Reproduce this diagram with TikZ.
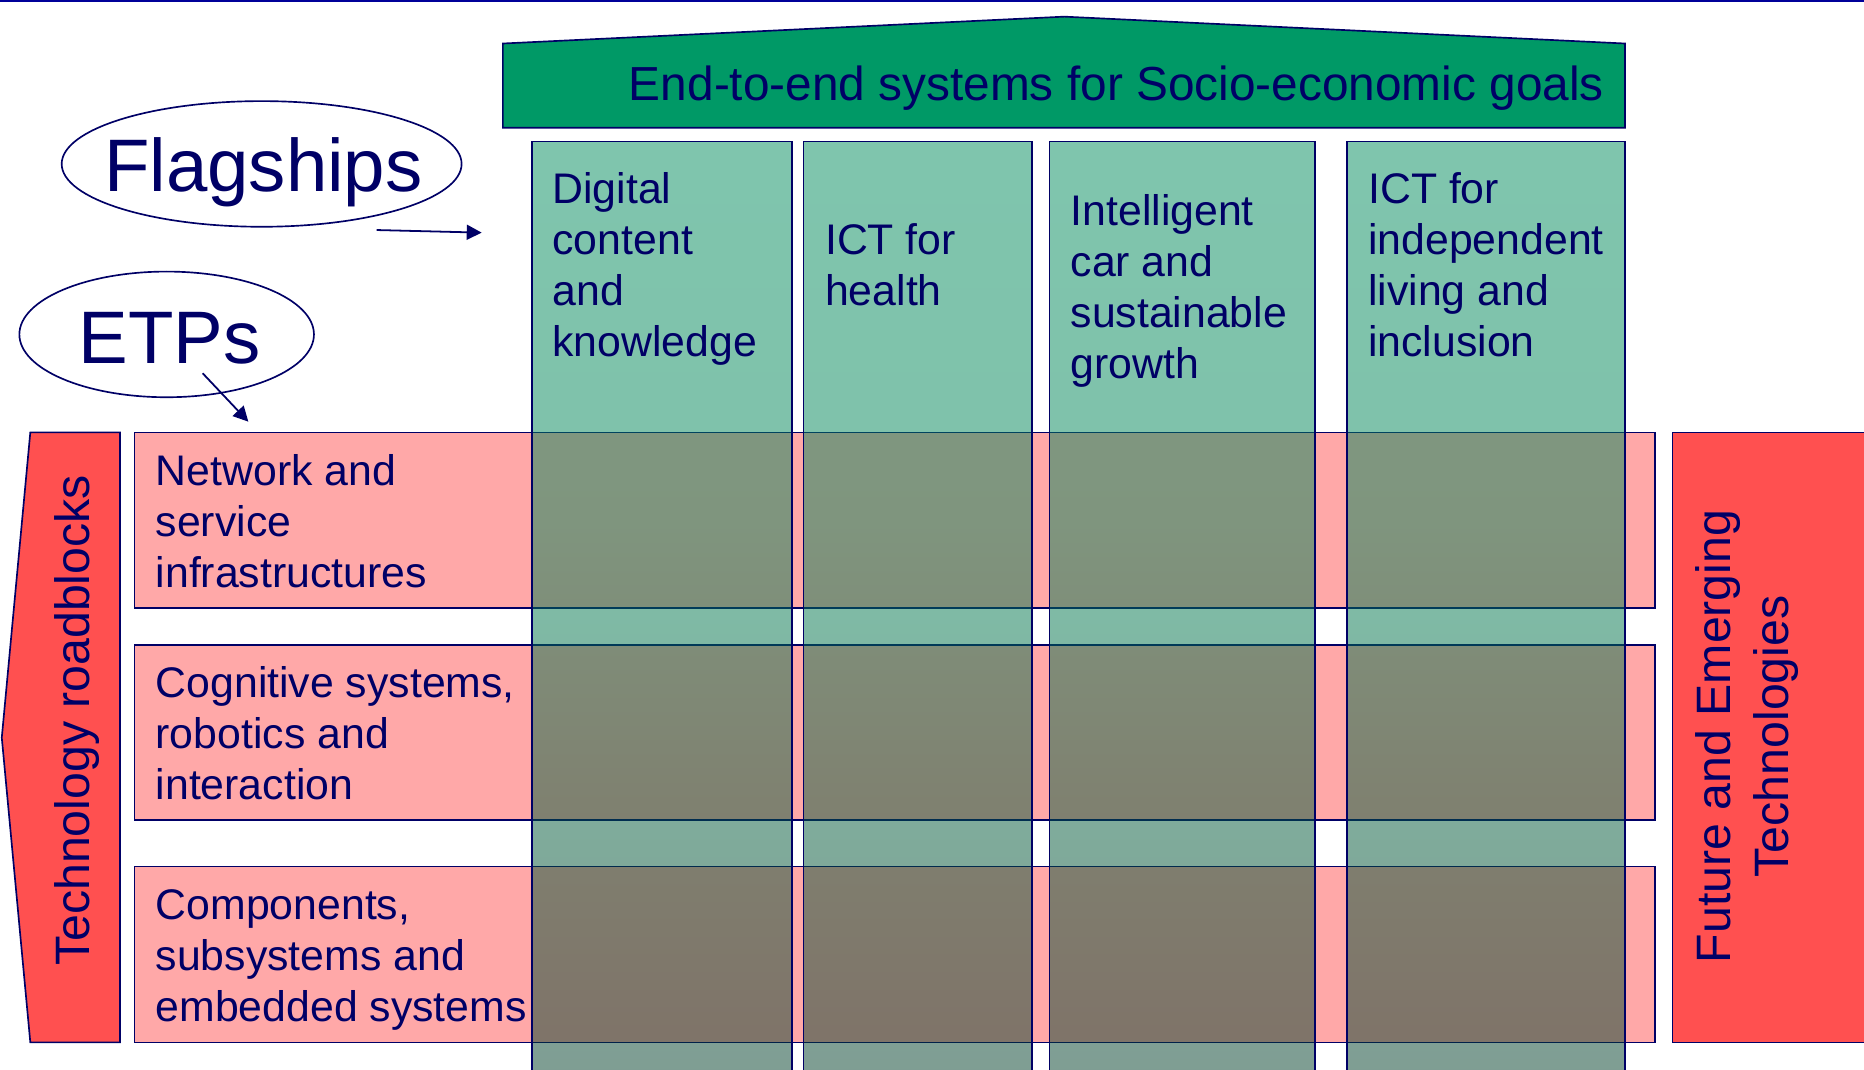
\documentclass[tikz,border=0pt]{standalone}
\usepackage{fontspec}
\setmainfont{Liberation Sans}
\usetikzlibrary{arrows.meta,shapes.geometric}
\definecolor{navy}{RGB}{0,0,102}
\definecolor{topblue}{RGB}{0,0,153}
\definecolor{hdrgreen}{RGB}{0,153,102}
\definecolor{rowpink}{RGB}{255,168,168}
\definecolor{fetred}{RGB}{255,80,80}
\definecolor{ctop}{RGB}{0,141,93}
\definecolor{cmidA}{RGB}{0,132,86}
\definecolor{cmidB}{RGB}{0,92,58}
\definecolor{cbot}{RGB}{0,60,40}
\pgfdeclareverticalshading{colshade}{100bp}{color(0bp)=(cbot); color(25bp)=(cbot); color(40bp)=(cmidB); color(55bp)=(cmidA); color(75bp)=(ctop); color(100bp)=(ctop)}
\newcommand{\firststrut}{\rule{0pt}{14pt}}
\newcommand{\bigstrut}{\rule{0pt}{16pt}}
\begin{document}
\begin{tikzpicture}[x=0.5pt,y=-0.5pt,line join=miter,
  outline/.style={draw=navy,line width=0.7pt},
  rowbox/.style={outline,fill=rowpink},
  redbox/.style={outline,fill=fetred},
  hdrbox/.style={outline,fill=hdrgreen},
  colbox/.style={shade,shading=colshade,fill opacity=0.5,draw=navy,line width=0.7pt},
  oval/.style={ellipse,draw=navy,line width=0.7pt,inner sep=0pt},
  conn/.style={draw=navy,line width=0.75pt,-{Triangle[length=6.3pt,width=6.3pt]}},
  celltext/.style={text=navy,inner sep=0pt,align=left,anchor=north west,
    font=\fontsize{18}{21.5}\selectfont},
  bigtext/.style={text=navy,inner sep=0pt,anchor=base,font=\fontsize{31.3}{36}\selectfont},
  sidetext/.style={text=navy,inner sep=0pt,rotate=90,font=\fontsize{20.3}{24.25}\selectfont}]
\useasboundingbox (0,0) rectangle (1568,900);
\fill[white] (0,0) rectangle (1568,900);
% top rule
\fill[topblue] (0,0) rectangle (1568,2);
% header
\path[hdrbox] (423,107.4) -- (423,36.6) -- (895.3,14) -- (1367,36.6) -- (1367,107.4) -- cycle;
% rows
\path[rowbox] (113,363.7) rectangle (1392,511.6);
\path[rowbox] (113,542.4) rectangle (1392,689.8);
\path[rowbox] (113,729) rectangle (1392,876.8);
% side boxes
\path[redbox] (25.5,363.7) -- (100.9,363.7) -- (100.9,876.8) -- (25.5,876.8) -- (1.5,620.5) -- cycle;
\path[redbox] (1406.8,363.7) rectangle (1600,876.8);
% columns
\path[colbox] (447.3,118.9) rectangle (666.4,910);
\path[colbox] (675.9,118.9) rectangle (868.2,910);
\path[colbox] (882.8,118.9) rectangle (1106.2,910);
\path[colbox] (1133.1,118.9) rectangle (1366.9,910);
% ellipses
\node[oval,minimum width=168.2pt,minimum height=52.85pt] (flagshipsE) at (220.1,137.9) {};
\node[oval,minimum width=123.9pt,minimum height=52.85pt] (etpsE) at (140.2,281.3) {};
% connectors
\coordinate (a1s) at (316.8,193.5);
\coordinate (a1e) at (405.2,195.7);
\coordinate (a2s) at (170.5,314);
\coordinate (a2e) at (208.9,354.7);
\draw[conn] (a1s) -- (a1e);
\draw[conn] (a2s) -- (a2e);
% texts
\node[text=navy,inner sep=0pt,anchor=base east,font=\fontsize{20.1}{24}\selectfont] (hdr) at (1349.5,84.7) {End-to-end systems for Socio-economic goals};
\node[bigtext] (flagships) at (221.5,161.2) {Flagships};
\node[bigtext] (etps) at (142.5,305.6) {ETPs};
\node[celltext] (c1) at (464.4,142.5) {\firststrut Digital\\content\\and\\knowledge};
\node[celltext] (c2) at (693.7,185.4) {\firststrut ICT for\\health};
\node[celltext] (c3) at (900.2,161.4) {\firststrut Intelligent\\car and\\sustainable\\growth};
\node[celltext] (c4) at (1150.6,142.9) {\firststrut ICT for\\independent\\living and\\inclusion};
\node[celltext] (r1) at (130.6,380) {\firststrut Network and\\service\\infrastructures};
\node[celltext] (r2) at (130.6,558.3) {\firststrut Cognitive systems,\\robotics and\\interaction};
\node[celltext] (r3) at (130.6,745) {\firststrut Components,\\subsystems and\\embedded systems};
\node[sidetext,anchor=base] (tr) at (75,606) {Technology roadblocks};
\node[sidetext,anchor=north,align=center] (fet) at (1423.6,619.5) {\bigstrut Future and Emerging\\Technologies};
\end{tikzpicture}
\end{document}
